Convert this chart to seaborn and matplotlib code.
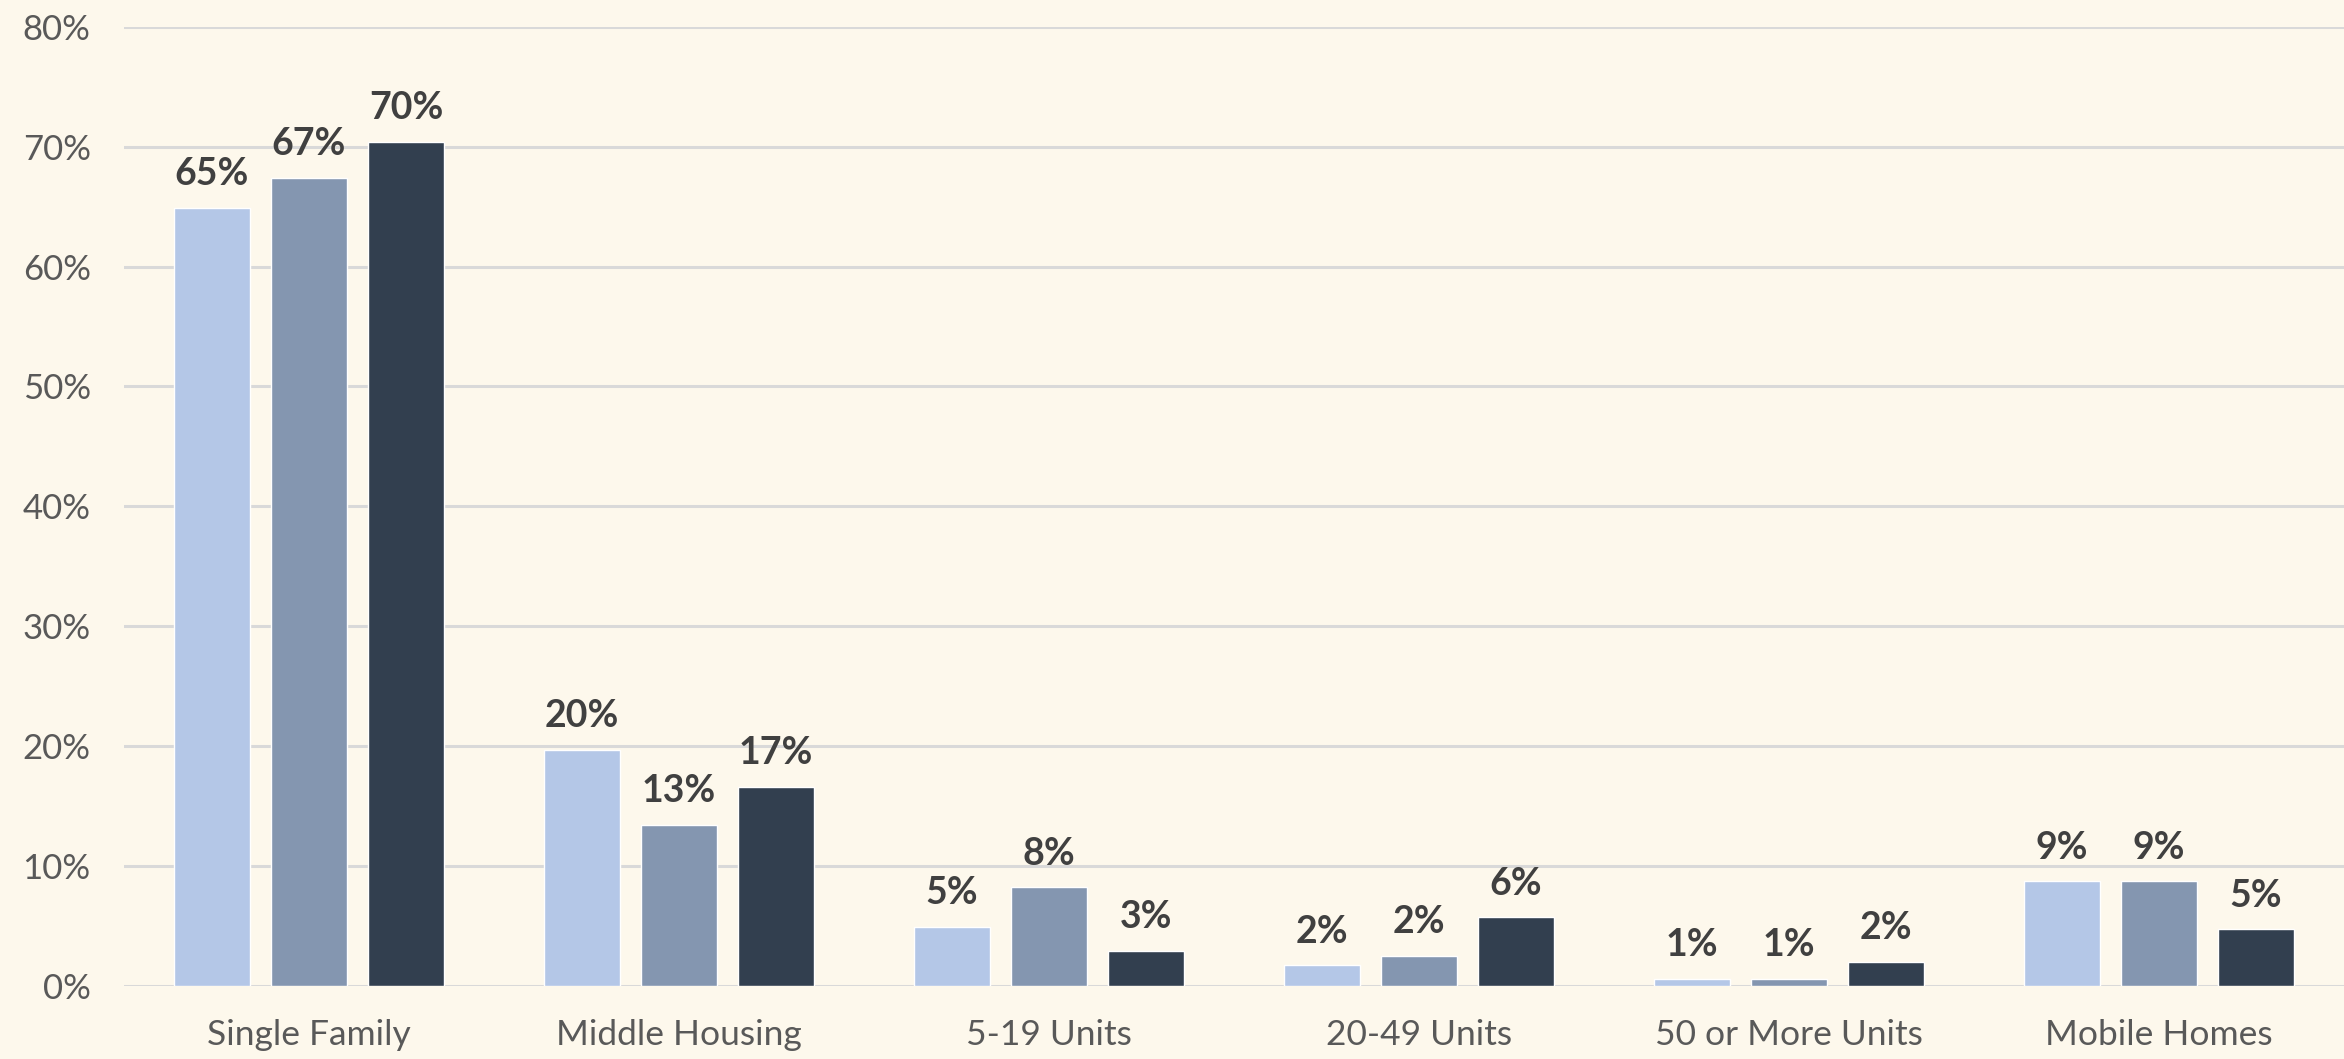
import matplotlib
matplotlib.use("Agg")
import matplotlib.pyplot as plt
import seaborn as sns
import pandas as pd

categories = ["Single Family", "Middle Housing", "5-19 Units", "20-49 Units",
              "50 or More Units", "Mobile Homes"]
series_names = ["Series 1", "Series 2", "Series 3"]
series_1 = [64.9, 19.7, 4.9, 1.7, 0.6, 8.7]
series_2 = [67.4, 13.4, 8.2, 2.5, 0.6, 8.7]
series_3 = [70.4, 16.6, 2.9, 5.7, 2.0, 4.7]
y_ticks = [0, 10, 20, 30, 40, 50, 60, 70, 80]

colors = ["#B4C7E7", "#8496B0", "#323F4F"]
bg = "#FDF8EC"

rows = []
for name, vals in zip(series_names, [series_1, series_2, series_3]):
    for c, v in zip(categories, vals):
        rows.append({"category": c, "series": name, "value": v})
df = pd.DataFrame(rows)

sns.set_theme(style="white")
plt.rcParams["font.family"] = ["Lato", "DejaVu Sans"]

fig = plt.figure(figsize=(23.44, 10.59), dpi=100, facecolor=bg)
ax = fig.add_axes([0.0529, 0.0692, 0.9471, 0.9054])
ax.set_facecolor(bg)

sns.barplot(data=df, x="category", y="value", hue="series", order=categories,
            hue_order=series_names, palette=colors, width=0.786, gap=0.215,
            legend=False, ax=ax, saturation=1, zorder=3)

for cont in ax.containers:
    ax.bar_label(cont, labels=[f"{v:.0f}%" for v in cont.datavalues],
                 padding=12, fontsize=27, fontweight="bold", color="#404040")

ax.set_xlim(-0.5, 5.5)
ax.set_ylim(0, 80)
ax.set_yticks(y_ticks)
ax.set_yticklabels([f"{t}%" for t in y_ticks])
ax.yaxis.grid(True, color="#D9D9D9", linewidth=2.2, zorder=0)
ax.set_axisbelow(True)
for s in ax.spines.values():
    s.set_visible(False)
ax.tick_params(axis="y", length=0, pad=24, labelsize=25, labelcolor="#595959")
ax.tick_params(axis="x", length=0, pad=24, labelsize=25.5, labelcolor="#595959")
ax.set_xlabel("")
ax.set_ylabel("")

fig.savefig("out.png", dpi=100, facecolor=bg)
